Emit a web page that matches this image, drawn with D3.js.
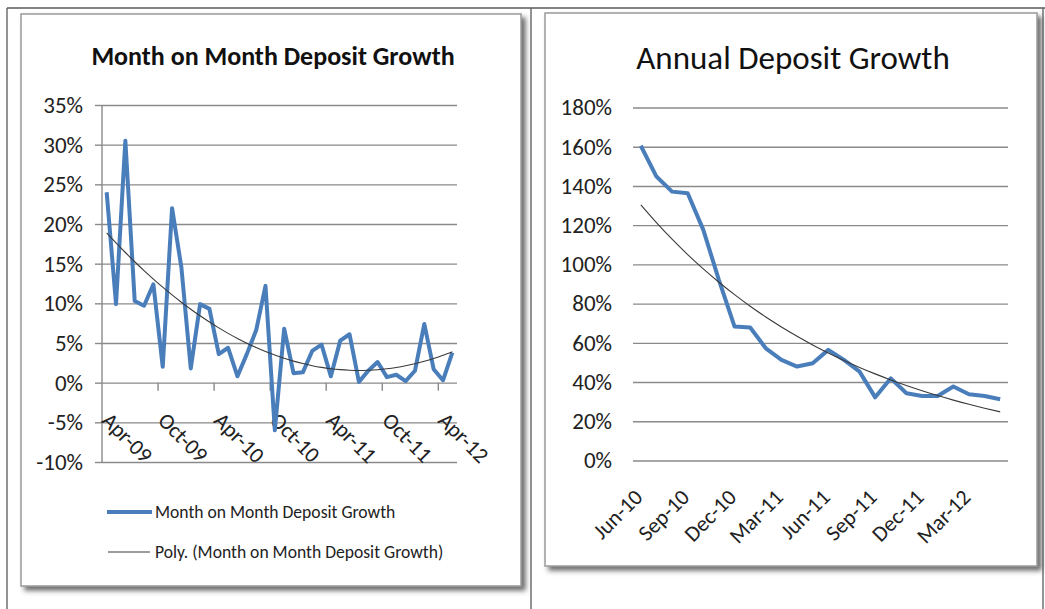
<!DOCTYPE html>
<html>
<head>
<meta charset="utf-8">
<script src="https://cdn.jsdelivr.net/npm/d3@7"></script>
<style>
  html, body { margin: 0; padding: 0; background: #fff; }
  svg { display: block; }
  text { font-family: Carlito, Lato, "Open Sans", sans-serif; fill: #222; }
</style>
</head>
<body>
<svg id="chart" width="1045" height="609"></svg>
<script>
// Month on month deposit growth, Apr-09 .. May-12
const momMonths = ["Apr-09","May-09","Jun-09","Jul-09","Aug-09","Sep-09","Oct-09","Nov-09","Dec-09",
  "Jan-10","Feb-10","Mar-10","Apr-10","May-10","Jun-10","Jul-10","Aug-10","Sep-10","Oct-10","Nov-10","Dec-10",
  "Jan-11","Feb-11","Mar-11","Apr-11","May-11","Jun-11","Jul-11","Aug-11","Sep-11","Oct-11","Nov-11","Dec-11",
  "Jan-12","Feb-12","Mar-12","Apr-12","May-12"];
const momGrowth = [24.0, 9.9, 30.5, 10.3, 9.7, 12.4, 2.0, 22.0, 14.5, 1.8, 9.9, 9.3, 3.6, 4.4, 0.8, 3.6,
  6.6, 12.2, -6.0, 6.8, 1.2, 1.3, 4.0, 4.8, 0.8, 5.3, 6.1, 0.1, 1.5, 2.6, 0.7, 1.0, 0.2, 1.5, 7.4, 1.7, 0.3, 3.8];
const momYTicks = [-10, -5, 0, 5, 10, 15, 20, 25, 30, 35];
const momXLabels = ["Apr-09","Oct-09","Apr-10","Oct-10","Apr-11","Oct-11","Apr-12"];

// Annual deposit growth, Jun-10 .. May-12
const annMonths = ["Jun-10","Jul-10","Aug-10","Sep-10","Oct-10","Nov-10","Dec-10","Jan-11","Feb-11","Mar-11",
  "Apr-11","May-11","Jun-11","Jul-11","Aug-11","Sep-11","Oct-11","Nov-11","Dec-11","Jan-12","Feb-12","Mar-12",
  "Apr-12","May-12"];
const annGrowth = [160.5, 144.8, 137.1, 136.3, 117.6, 92.0, 68.3, 67.8, 57.2, 51.3, 47.9, 49.6, 56.4, 51.3,
  45.3, 32.2, 41.9, 34.3, 32.9, 32.9, 37.7, 33.8, 32.9, 31.2];
const annYTicks = [0, 20, 40, 60, 80, 100, 120, 140, 160, 180];
const annXLabels = ["Jun-10","Sep-10","Dec-10","Mar-11","Jun-11","Sep-11","Dec-11","Mar-12"];

const BLUE = "#4a7ebb", GRID = "#8a8a8a", TREND = "#3a3a3a";
const svg = d3.select("#chart");

// least-squares fits used for the trend lines
function polyFit2(ys) {
  const S = Array(5).fill(0), T = Array(3).fill(0);
  ys.forEach((y, i) => { const x = i + 1; for (let k = 0; k < 5; k++) S[k] += x ** k; for (let k = 0; k < 3; k++) T[k] += y * x ** k; });
  const A = [[S[0], S[1], S[2], T[0]], [S[1], S[2], S[3], T[1]], [S[2], S[3], S[4], T[2]]];
  for (let c = 0; c < 3; c++) {
    for (let r = c + 1; r < 3; r++) { const f = A[r][c] / A[c][c]; for (let k = c; k < 4; k++) A[r][k] -= f * A[c][k]; }
  }
  const b = [0, 0, 0];
  for (let r = 2; r >= 0; r--) { let s = A[r][3]; for (let k = r + 1; k < 3; k++) s -= A[r][k] * b[k]; b[r] = s / A[r][r]; }
  return ys.map((_, i) => b[0] + b[1] * (i + 1) + b[2] * (i + 1) ** 2);
}
function expFit(ys) {
  const xs = ys.map((_, i) => i + 1), ls = ys.map(Math.log);
  const mx = d3.mean(xs), ml = d3.mean(ls);
  const b = d3.sum(xs, (x, i) => (x - mx) * (ls[i] - ml)) / d3.sum(xs, x => (x - mx) ** 2);
  const a = ml - b * mx;
  return xs.map(x => Math.exp(a + b * x));
}

// drop-shadowed chart frames
const defs = svg.append("defs");
const f = defs.append("filter").attr("id", "frameShadow").attr("x", "-5%").attr("y", "-5%").attr("width", "115%").attr("height", "115%");
f.append("feDropShadow").attr("dx", 4).attr("dy", 4).attr("stdDeviation", 2.4).attr("flood-color", "#4a4a4a").attr("flood-opacity", 0.8);

// table rules around the two cells
[[7, 8, 1045, 8], [7, 8, 7, 609], [531, 8, 531, 609], [1043, 8, 1043, 609]].forEach(([a, b, c, d]) =>
  svg.append("line").attr("x1", a).attr("y1", b).attr("x2", c).attr("y2", d).attr("stroke", "#5a5a5a").attr("stroke-width", 1.3));

function frame(x, y, w, h) {
  svg.append("rect").attr("x", x).attr("y", y).attr("width", w).attr("height", h)
    .attr("fill", "#fff").attr("stroke", "#9a9a9a").attr("stroke-width", 1.5).attr("filter", "url(#frameShadow)");
}
frame(21, 14, 500, 572);
frame(545, 13, 492, 553);

// ---------- Month on Month Deposit Growth ----------
{
  const x0 = 102, x1 = 457;
  const g = svg.append("g");
  const x = d3.scaleBand().domain(momMonths).range([x0, x1]).padding(0);
  const xi = d3.scaleLinear().domain([0, momMonths.length]).range([x0, x1]);
  const y = d3.scaleLinear().domain([-10, 35]).range([462, 105]);
  const cx = m => x(m) + x.bandwidth() / 2;

  g.append("text").attr("x", 273).attr("y", 65).attr("text-anchor", "middle")
    .style("font-size", "26px").style("font-weight", "bold").style("fill", "#111").text("Month on Month Deposit Growth");

  // gridlines
  g.append("g").attr("transform", `translate(${x0},0)`)
    .call(d3.axisLeft(y).tickValues(momYTicks).tickSize(-(x1 - x0)).tickFormat(""))
    .call(s => { s.select(".domain").remove(); s.selectAll("line").attr("stroke", GRID).attr("stroke-width", 1.4); });
  // value axis with outside ticks and labels
  g.append("g").attr("transform", `translate(${x0},0)`)
    .call(d3.axisLeft(y).tickValues(momYTicks).tickSize(7).tickPadding(12).tickFormat(d => d + "%"))
    .call(s => {
      s.select(".domain").attr("stroke", GRID).attr("stroke-width", 1.4).attr("d", `M0,${y(35)}V${y(-10)}`);
      s.selectAll("line").attr("stroke", GRID).attr("stroke-width", 1.4);
      s.selectAll("text").style("font-size", "23px").style("fill", "#222").attr("font-family", null);
    });
  // category axis at zero: ticks every six months
  const y0 = y(0);
  g.append("g").selectAll("line").data(d3.range(6, momMonths.length, 6)).join("line")
    .attr("x1", d => xi(d)).attr("x2", d => xi(d)).attr("y1", y0).attr("y2", y0 + 8)
    .attr("stroke", GRID).attr("stroke-width", 1.4);
  g.append("g").selectAll("text").data(momXLabels).join("text")
    .attr("transform", d => `translate(${cx(d) - 6},${y0 + 39}) rotate(45)`)
    .style("font-size", "22px").text(d => d);

  const line = d3.line().x(d => cx(d.m)).y(d => y(d.v));
  g.append("path").datum(momMonths.map((m, i) => ({ m, v: momGrowth[i] })))
    .attr("d", line).attr("fill", "none").attr("stroke", BLUE).attr("stroke-width", 4).attr("stroke-linejoin", "round");
  const trend = polyFit2(momGrowth);
  g.append("path").datum(momMonths.map((m, i) => ({ m, v: trend[i] })))
    .attr("d", line.curve(d3.curveMonotoneX)).attr("fill", "none").attr("stroke", TREND).attr("stroke-width", 1.1);

  // legend
  const lg = g.append("g");
  lg.append("line").attr("x1", 107).attr("x2", 152).attr("y1", 512).attr("y2", 512).attr("stroke", BLUE).attr("stroke-width", 4);
  lg.append("text").attr("x", 155).attr("y", 518).style("font-size", "17.6px").text("Month on Month Deposit Growth");
  lg.append("line").attr("x1", 108).attr("x2", 150).attr("y1", 552).attr("y2", 552).attr("stroke", TREND).attr("stroke-width", 1.1);
  lg.append("text").attr("x", 155).attr("y", 558).style("font-size", "17.6px").text("Poly. (Month on Month Deposit Growth)");
}

// ---------- Annual Deposit Growth ----------
{
  const x0 = 633, x1 = 1008;
  const g = svg.append("g");
  const x = d3.scaleBand().domain(annMonths).range([x0, x1]).padding(0);
  const y = d3.scaleLinear().domain([0, 180]).range([460.5, 107.5]);
  const cx = m => x(m) + x.bandwidth() / 2;

  g.append("text").attr("x", 793).attr("y", 69).attr("text-anchor", "middle")
    .style("font-size", "33px").style("fill", "#111").text("Annual Deposit Growth");

  g.append("g").attr("transform", `translate(${x0},0)`)
    .call(d3.axisLeft(y).tickValues(annYTicks).tickSize(-(x1 - x0)).tickPadding(21).tickFormat(d => d + "%"))
    .call(s => {
      s.select(".domain").remove();
      s.selectAll("line").attr("stroke", GRID).attr("stroke-width", 1.4);
      s.selectAll("text").style("font-size", "23px").style("fill", "#222").attr("font-family", null);
    });

  const yb = y(0);
  g.append("g").selectAll("text").data(annXLabels).join("text")
    .attr("transform", d => `translate(${cx(d) + 3},${yb + 38}) rotate(-45)`)
    .attr("text-anchor", "end").style("font-size", "22px").text(d => d);

  const line = d3.line().x(d => cx(d.m)).y(d => y(d.v));
  g.append("path").datum(annMonths.map((m, i) => ({ m, v: annGrowth[i] })))
    .attr("d", line).attr("fill", "none").attr("stroke", BLUE).attr("stroke-width", 4).attr("stroke-linejoin", "round");
  const trend = expFit(annGrowth);
  g.append("path").datum(annMonths.map((m, i) => ({ m, v: trend[i] })))
    .attr("d", d3.line().x(d => cx(d.m)).y(d => y(d.v)).curve(d3.curveMonotoneX))
    .attr("fill", "none").attr("stroke", TREND).attr("stroke-width", 1.1);
}
</script>
</body>
</html>
